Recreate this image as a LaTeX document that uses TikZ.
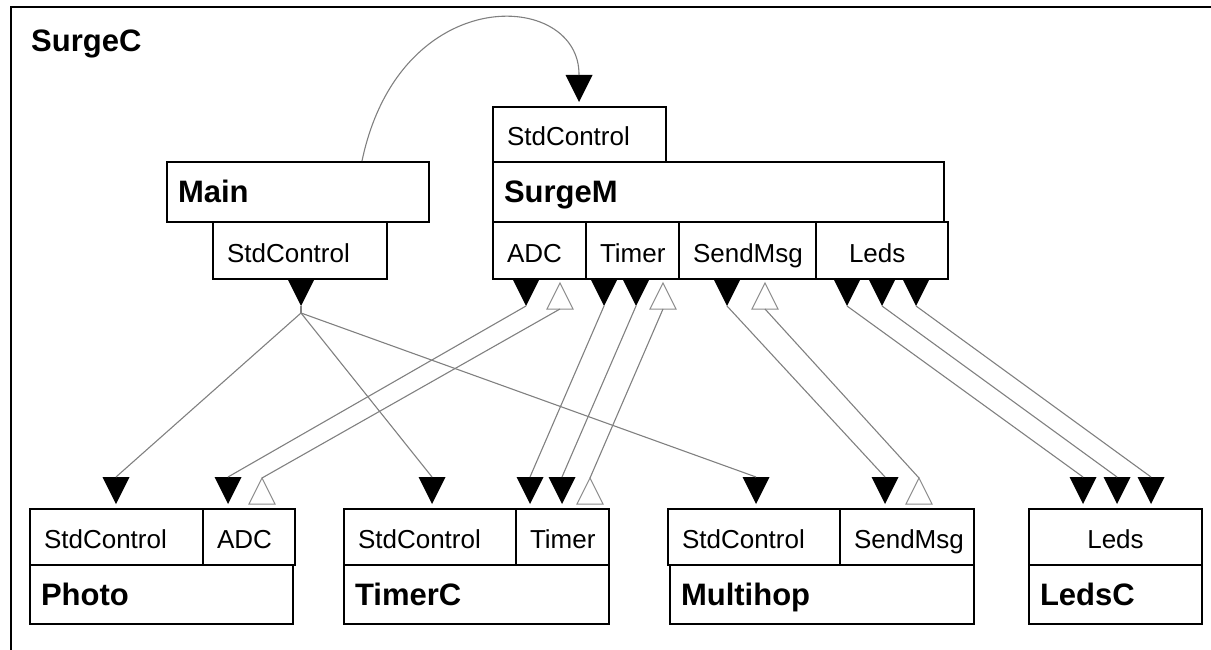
\documentclass[tikz,border=0pt]{standalone}
\usepackage{fontspec}
\setmainfont{Liberation Sans}
\usetikzlibrary{shapes.geometric}
\begin{document}
\begin{tikzpicture}[x=1pt,y=-1pt,
  ifbox/.style={draw, line width=2pt, anchor=north west, inner xsep=14pt, inner ysep=0pt,
    text height=24pt, text depth=1pt, minimum height=57pt, align=left,
    font=\fontsize{26pt}{30pt}\selectfont, text width=#1},
  namebox/.style={draw, line width=2pt, anchor=north west, inner xsep=11pt, inner ysep=0pt,
    text height=26pt, text depth=4pt, minimum height=60pt, align=left,
    font=\bfseries\fontsize{31pt}{36pt}\selectfont, text width=#1},
  dtri/.style={isosceles triangle, isosceles triangle stretches, shape border rotate=270,
    minimum width=27pt, minimum height=27pt, inner sep=0pt, outer sep=0pt, fill=black, anchor=apex},
  utri/.style={isosceles triangle, isosceles triangle stretches, shape border rotate=90,
    minimum width=26pt, minimum height=26pt, inner sep=0pt, outer sep=0pt, fill=white,
    draw=black!45, line width=1pt, anchor=apex},
  wire/.style={draw=black!50, line width=1.1pt},
  frame/.style={line width=2.5pt}
]
\useasboundingbox (0,0) rectangle (1211,650);

% outer configuration frame (clipped by the page)
\draw[frame] (11,650) -- (11,7) -- (1211,7);
\node[anchor=base west, inner sep=0pt, font=\bfseries\fontsize{31pt}{36pt}\selectfont] (surgec) at (31,52) {SurgeC};

% Main
\node[namebox=240pt] (mainName) at (166,161) {Main};
\node[ifbox=146pt] (mainStd) at (212,221) {StdControl};

% SurgeM
\node[ifbox=145pt, minimum height=55pt] (sStd) at (492,106) {StdControl};
\node[namebox=429pt] (sName) at (492,161) {SurgeM};
\node[ifbox=65pt] (sADC) at (492,221) {ADC};
\node[ifbox=65pt] (sTimer) at (585,221) {Timer};
\node[ifbox=109pt] (sSend) at (678,221) {SendMsg};
\node[ifbox=66pt, inner xsep=33pt] (sLeds) at (815,221) {Leds};

% Photo
\node[ifbox=145pt, minimum height=56pt] (pStd) at (29,508) {StdControl};
\node[ifbox=64pt, minimum height=56pt] (pADC) at (202,508) {ADC};
\node[namebox=241pt, minimum height=59pt] (pName) at (29,564) {Photo};

% TimerC
\node[ifbox=144pt, minimum height=56pt] (tStd) at (343,508) {StdControl};
\node[ifbox=65pt, minimum height=56pt] (tTimer) at (515,508) {Timer};
\node[namebox=243pt, minimum height=59pt] (tName) at (343,564) {TimerC};

% Multihop
\node[ifbox=144pt, minimum height=56pt] (mStd) at (667,508) {StdControl};
\node[ifbox=106pt, minimum height=56pt] (mSend) at (839,508) {SendMsg};
\node[namebox=282pt, minimum height=59pt] (mName) at (669,564) {Multihop};

% LedsC
\node[ifbox=145pt, minimum height=56pt, align=center] (lLeds) at (1028,508) {Leds};
\node[namebox=151pt, minimum height=59pt] (lName) at (1028,564) {LedsC};

% triangles at SurgeM / Main
\node[dtri] (sStdT) at (579,102) {};
\node[dtri] (mainT) at (301,306) {};
\node[dtri] (sADC1) at (526,306) {};
\node[utri] (sADC2) at (560,283) {};
\node[dtri] (sTim1) at (604,306) {};
\node[dtri] (sTim2) at (636,306) {};
\node[utri] (sTim3) at (663,283) {};
\node[dtri] (sSend1) at (727,306) {};
\node[utri] (sSend2) at (765,283) {};
\node[dtri] (sLed1) at (847,306) {};
\node[dtri] (sLed2) at (882,306) {};
\node[dtri] (sLed3) at (916,306) {};

% triangles at the bottom components
\node[dtri] (pStdT) at (116,504) {};
\node[dtri] (pADC1) at (228,504) {};
\node[utri] (pADC2) at (262,478) {};
\node[dtri] (tStdT) at (432,504) {};
\node[dtri] (tTim1) at (530,504) {};
\node[dtri] (tTim2) at (562,504) {};
\node[utri] (tTim3) at (590,478) {};
\node[dtri] (mStdT) at (756,504) {};
\node[dtri] (mSend1) at (885,504) {};
\node[utri] (mSend2) at (919,478) {};
\node[dtri] (lLed1) at (1083,504) {};
\node[dtri] (lLed2) at (1117,504) {};
\node[dtri] (lLed3) at (1151,504) {};

% wiring
\draw[wire] ([xshift=196pt]mainName.north west) .. controls (400,-20) and (580,-10) .. (sStdT.north);
\draw[wire] (mainT.apex) -- ++(0,7) coordinate (mainfan);
\draw[wire] (mainfan) -- (pStdT.north);
\draw[wire] (mainfan) -- (tStdT.north);
\draw[wire] (mainfan) -- (mStdT.north);

\draw[wire] (sADC1.apex) -- (pADC1.north);
\draw[wire] (sADC2.south) -- (pADC2.apex);
\draw[wire] (sTim1.apex) -- (tTim1.north);
\draw[wire] (sTim2.apex) -- (tTim2.north);
\draw[wire] (sTim3.south) -- (tTim3.apex);
\draw[wire] (sSend1.apex) -- (mSend1.north);
\draw[wire] (sSend2.south) -- (mSend2.apex);
\draw[wire] (sLed1.apex) -- (lLed1.north);
\draw[wire] (sLed2.apex) -- (lLed2.north);
\draw[wire] (sLed3.apex) -- (lLed3.north);
\end{tikzpicture}
\end{document}
